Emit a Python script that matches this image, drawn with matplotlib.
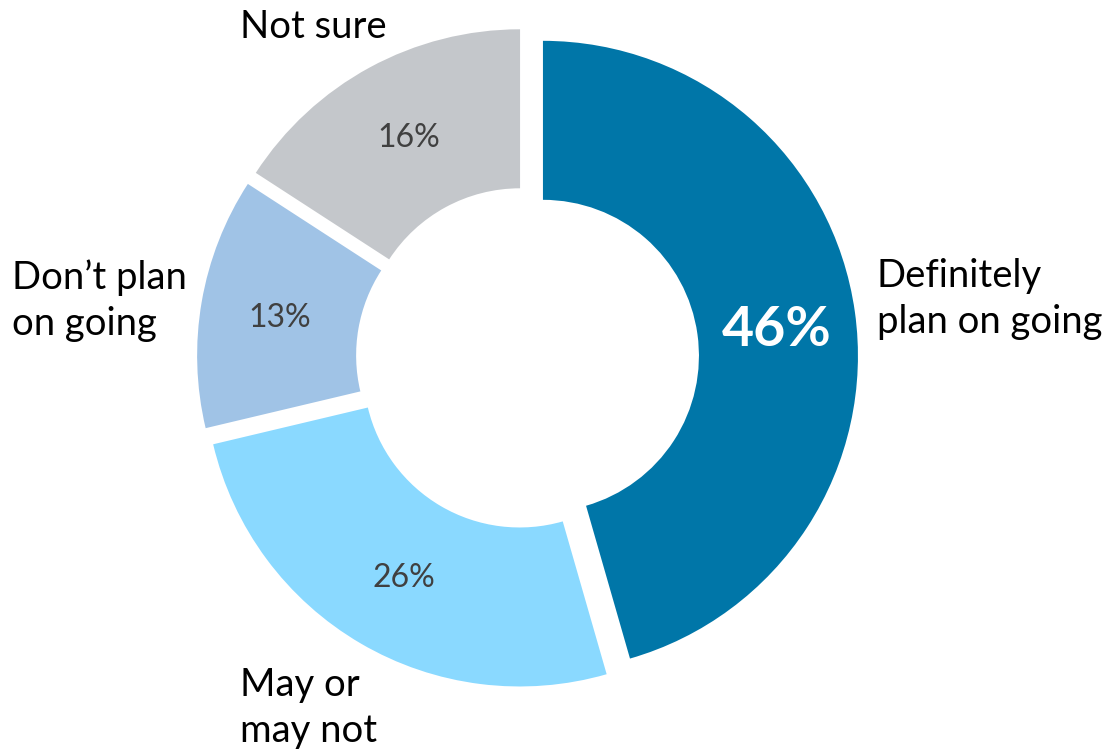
import matplotlib
matplotlib.use("Agg")
import matplotlib.pyplot as plt

# Survey responses (percent), clockwise from 12 o'clock
categories = ["Definitely\nplan on going", "May or\nmay not", "Don\u2019t plan\non going", "Not sure"]
values = [46, 26, 13, 16]
colors = ["#0076A8", "#8AD9FF", "#A0C3E6", "#C4C7CB"]

W, H = 1112, 754
fig = plt.figure(figsize=(W / 100, H / 100), dpi=100)
ax = fig.add_axes([0, 0, 1, 1])

cx, cy = 527.5, H - 358
R = 315
ring = 159
gap = 15.6

ax.pie(values, colors=colors, startangle=90, counterclock=False,
       radius=R, center=(cx, cy), explode=[gap] * len(values),
       wedgeprops=dict(width=ring, linewidth=0))

ax.set_xlim(0, W)
ax.set_ylim(0, H)
ax.set_aspect("equal")
ax.axis("off")

font = "Lato"

# value labels inside the ring
pct_pos = [(777, 330), (404, 578), (280, 318), (409, 138)]
for i, (v, (x, y)) in enumerate(zip(values, pct_pos)):
    if i == 0:
        ax.text(x, H - y, f"{v}%", color="white", fontsize=40, fontweight="bold",
                family=font, ha="center", va="center")
    else:
        ax.text(x, H - y, f"{v}%", color="#404040", fontsize=23,
                family=font, ha="center", va="center")

# category labels around the ring (baseline of the last line)
cat_pos = [(877, 333), (240, 742), (12, 335), (240, 38)]
for name, (x, y) in zip(categories, cat_pos):
    ax.text(x, H - y, name, color="black", fontsize=27.5, family=font,
            ha="left", va="baseline", linespacing=1.33)

fig.savefig("out.png", dpi=100)
